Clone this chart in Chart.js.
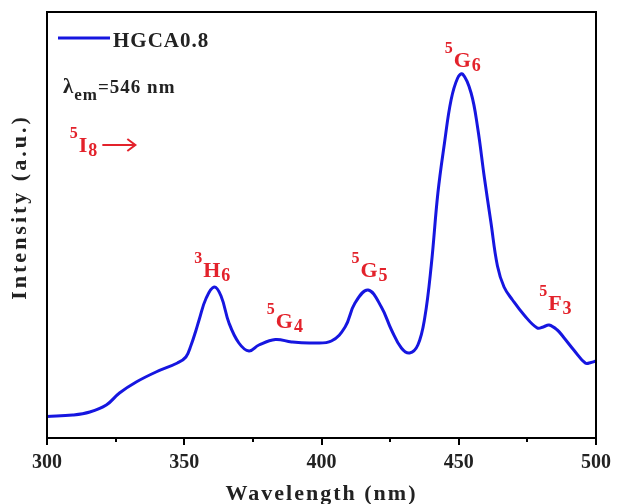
<!DOCTYPE html>
<html>
<head>
<meta charset="utf-8">
<script src="https://cdn.jsdelivr.net/npm/chart.js@4/dist/chart.umd.min.js"></script>
<style>
  html, body { margin: 0; padding: 0; background: #fff; }
  #wrap { width: 617px; height: 504px; }
</style>
</head>
<body>
<div id="wrap"><canvas id="pl"></canvas></div>
<script>
// excitation spectrum, emission monitored at 546 nm
const wavelength = [
  300, 309.4, 315.6, 321.6, 326.4, 332.5, 339.7, 347.5, 350.6, 352.5,
  354.2, 355.4, 358, 360.9, 363.4, 366.3, 369.9, 373.6, 377.2, 383.2,
  389.1, 396.4, 403.6, 408.6, 412.2, 417, 421.8, 425.5, 429.1, 432.1,
  435.1, 437.6, 440, 442.4, 444.8, 447.2, 449.6, 451.4, 454.5, 456.9,
  459.3, 461.7, 464.1, 466.5, 469.6, 473.8, 478.6, 480.8, 482.9, 485.9,
  488.4, 491.9, 496.1, 498.2, 500
];
const intensity = [
  21.5, 23, 26, 33, 45, 56, 66, 75, 81, 93,
  107, 118, 140, 151, 142, 115, 95, 87, 93, 98.5,
  96, 95, 97, 111, 135, 148, 131, 108, 90, 85,
  93, 120, 173, 245, 295, 338, 360, 364, 345, 310,
  261, 216, 172, 151, 138, 123, 110, 111, 113, 108,
  100, 88, 75, 75.5, 77
];

// transition labels: [superscript, term, subscript, wavelength, intensity]
const transitions = [
  ["3", "H", "6", 353.6, 161],
  ["5", "G", "4", 380.1, 110],
  ["5", "G", "5", 410.9, 161],
  ["5", "G", "6", 444.9, 371],
  ["5", "F", "3", 479.3, 128]
];
const groundState = ["5", "I", "8", 308.3, 286];

const seriesName = "HGCA0.8";
const xTitle = "Wavelength (nm)";
const yTitle = "Intensity (a.u.)";

const SERIF = "'Liberation Serif', 'Times New Roman', serif";
const RED = "#e3222b";
const BLUE = "#1616e0";
const INK = "#222";

function font(px) {
  return "bold " + px + "px " + SERIF;
}

function drawTerm(ctx, x, y, t) {
  ctx.textBaseline = "alphabetic";
  ctx.textAlign = "left";
  ctx.fillStyle = RED;
  ctx.font = font(16);
  ctx.fillText(t[0], x, y - 14);
  x += ctx.measureText(t[0]).width + 1;
  ctx.font = font(22);
  ctx.fillText(t[1], x, y);
  x += ctx.measureText(t[1]).width + 1;
  ctx.font = font(18);
  ctx.fillText(t[2], x, y + 4);
  return x + ctx.measureText(t[2]).width;
}

const decor = {
  id: "decor",
  afterDraw(chart) {
    const { ctx, chartArea: a, scales } = chart;
    const xs = scales.x, ys = scales.y;
    ctx.save();

    // frame
    ctx.strokeStyle = "#000";
    ctx.lineWidth = 2;
    ctx.strokeRect(a.left, a.top, a.right - a.left, a.bottom - a.top);

    // short minor ticks between the labelled ones
    for (let v = 325; v < 500; v += 50) {
      const px = Math.round(xs.getPixelForValue(v));
      ctx.beginPath();
      ctx.moveTo(px, a.bottom);
      ctx.lineTo(px, a.bottom + 4);
      ctx.stroke();
    }

    // axis titles
    ctx.fillStyle = INK;
    ctx.font = font(22);
    ctx.letterSpacing = "2px";
    ctx.textAlign = "center";
    ctx.textBaseline = "alphabetic";
    ctx.fillText(xTitle, (a.left + a.right) / 2, 500);
    ctx.save();
    ctx.translate(26, 207);
    ctx.rotate(-Math.PI / 2);
    ctx.letterSpacing = "3px";
    ctx.fillText(yTitle, 0, 0);
    ctx.restore();
    ctx.letterSpacing = "0px";

    // legend
    ctx.strokeStyle = BLUE;
    ctx.lineWidth = 3;
    ctx.beginPath();
    ctx.moveTo(a.left + 11, 38);
    ctx.lineTo(a.left + 63, 38);
    ctx.stroke();
    ctx.fillStyle = INK;
    ctx.font = font(21);
    ctx.letterSpacing = "1px";
    ctx.textAlign = "left";
    ctx.fillText(seriesName, a.left + 66, 47);

    // monitored emission wavelength
    let x = a.left + 16;
    ctx.font = font(21);
    ctx.fillText("\u03bb", x, 93);
    x += ctx.measureText("\u03bb").width;
    ctx.font = font(17);
    ctx.fillText("em", x, 100);
    x += ctx.measureText("em").width;
    ctx.font = font(19);
    ctx.fillText("=546 nm", x, 93);
    ctx.letterSpacing = "0px";

    // transition labels over the bands
    transitions.forEach((t) => {
      drawTerm(ctx, xs.getPixelForValue(t[3]), ys.getPixelForValue(t[4]), t);
    });

    // ground state with arrow
    const gy = ys.getPixelForValue(groundState[4]);
    const end = drawTerm(ctx, xs.getPixelForValue(groundState[3]), gy, groundState);
    const ay = gy - 7;
    ctx.strokeStyle = RED;
    ctx.lineWidth = 2;
    ctx.beginPath();
    ctx.moveTo(end + 5, ay);
    ctx.lineTo(end + 38, ay);
    ctx.moveTo(end + 30, ay - 6);
    ctx.lineTo(end + 38, ay);
    ctx.lineTo(end + 30, ay + 6);
    ctx.stroke();

    ctx.restore();
  }
};

new Chart(document.getElementById("pl"), {
  type: "line",
  data: {
    datasets: [{
      label: seriesName,
      data: wavelength.map((w, i) => ({ x: w, y: intensity[i] })),
      borderColor: BLUE,
      borderWidth: 3,
      pointRadius: 0,
      tension: 0.4,
      fill: false
    }]
  },
  options: {
    responsive: true,
    maintainAspectRatio: false,
    animation: false,
    layout: { padding: { top: 12, right: 18, left: 47, bottom: 0 } },
    plugins: {
      legend: { display: false },
      tooltip: { enabled: false }
    },
    scales: {
      x: {
        type: "linear",
        min: 300,
        max: 500,
        afterFit(scale) { scale.height = 66; },
        border: { display: false },
        grid: {
          drawOnChartArea: false,
          tickLength: 7,
          lineWidth: 2,
          tickColor: (c) => (c.tick && c.tick.value % 50 === 0 ? "#000" : "rgba(0,0,0,0)")
        },
        ticks: {
          stepSize: 25,
          maxRotation: 0,
          autoSkip: false,
          padding: 6,
          color: INK,
          font: { family: SERIF, size: 20, weight: "bold" },
          callback: (v) => (v % 50 === 0 ? String(v) : "")
        }
      },
      y: {
        display: false,
        min: 0,
        max: 426
      }
    }
  },
  plugins: [decor]
});
</script>
</body>
</html>
